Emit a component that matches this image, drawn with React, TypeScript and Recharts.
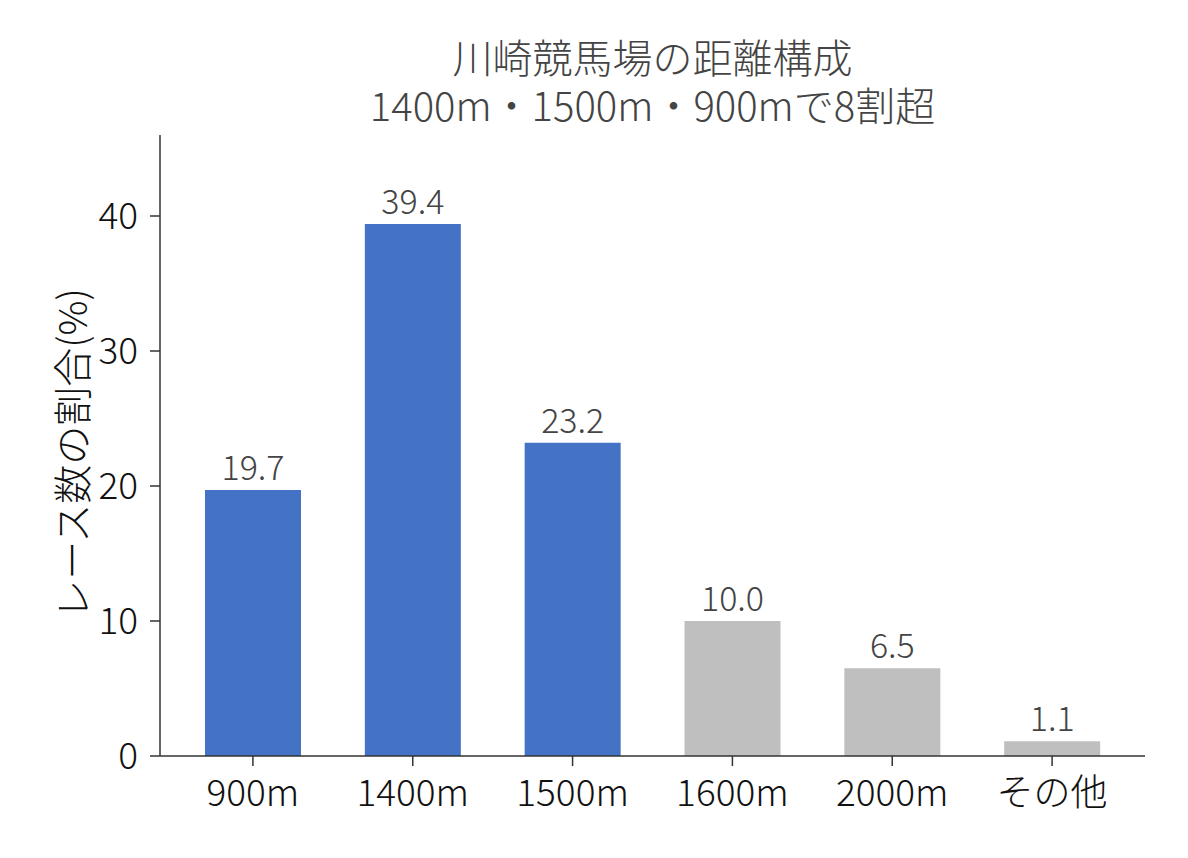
import { BarChart, Bar, XAxis, YAxis, Cell, LabelList } from "recharts";

const categories = ["900m", "1400m", "1500m", "1600m", "2000m", "その他"];
const shares = [19.7, 39.4, 23.2, 10.0, 6.5, 1.1];
const highlighted = [true, true, true, false, false, false];
const yTicks = [0, 10, 20, 30, 40];

const FONT = '"Noto Sans CJK JP", "Noto Sans", sans-serif';
const BLUE = "#4472C4";
const GRAY = "#BFBFBF";
const AXIS = "#333333";

const data = categories.map((name, i) => ({ name, value: shares[i] }));

function YLabel({ viewBox }: any) {
  const cy = viewBox.y + viewBox.height / 2 + 8;
  return (
    <text
      x={70}
      y={cy}
      transform={`rotate(-90, 70, ${cy})`}
      textAnchor="middle"
      dominantBaseline="central"
      fontSize={39}
      fontWeight={300}
      fontFamily={FONT}
      fill="#111"
    >
      レース数の割合(%)
    </text>
  );
}

export default function App() {
  return (
    <div
      style={{
        position: "absolute",
        left: 0,
        top: 0,
        width: 1188,
        height: 858,
        background: "#fff",
        fontFamily: FONT,
      }}
    >
      <div
        style={{
          position: "absolute",
          left: 160,
          width: 985,
          top: 32,
          textAlign: "center",
          fontSize: 40,
          fontWeight: 300,
          lineHeight: "48px",
          color: "#444",
        }}
      >
        <div>川崎競馬場の距離構成</div>
        <div>1400m・1500m・900mで8割超</div>
      </div>
      <BarChart
        width={1188}
        height={858}
        data={data}
        margin={{ top: 135, right: 43, bottom: 22, left: 100 }}
      >
        <XAxis
          dataKey="name"
          padding={{ left: 13, right: 13 }}
          tickSize={10}
          tickMargin={14}
          stroke={AXIS}
          strokeWidth={1.5}
          tick={{ fill: "#111", fontSize: 37, fontWeight: 300, fontFamily: FONT }}
          height={80}
        />
        <YAxis
          width={60}
          domain={[0, 46]}
          ticks={yTicks}
          tickSize={10}
          tickMargin={12}
          stroke={AXIS}
          strokeWidth={1.5}
          tick={{ fill: "#111", fontSize: 37, fontWeight: 300, fontFamily: FONT }}
          allowDataOverflow
          label={<YLabel />}
        />
        <Bar dataKey="value" barSize={96} isAnimationActive={false}>
          {data.map((d, i) => (
            <Cell key={d.name} fill={highlighted[i] ? BLUE : GRAY} />
          ))}
          <LabelList
            dataKey="value"
            position="top"
            offset={10}
            formatter={(v: any) => Number(v).toFixed(1)}
            style={{ fill: "#444", fontSize: 34, fontWeight: 300, fontFamily: FONT }}
          />
        </Bar>
      </BarChart>
    </div>
  );
}
